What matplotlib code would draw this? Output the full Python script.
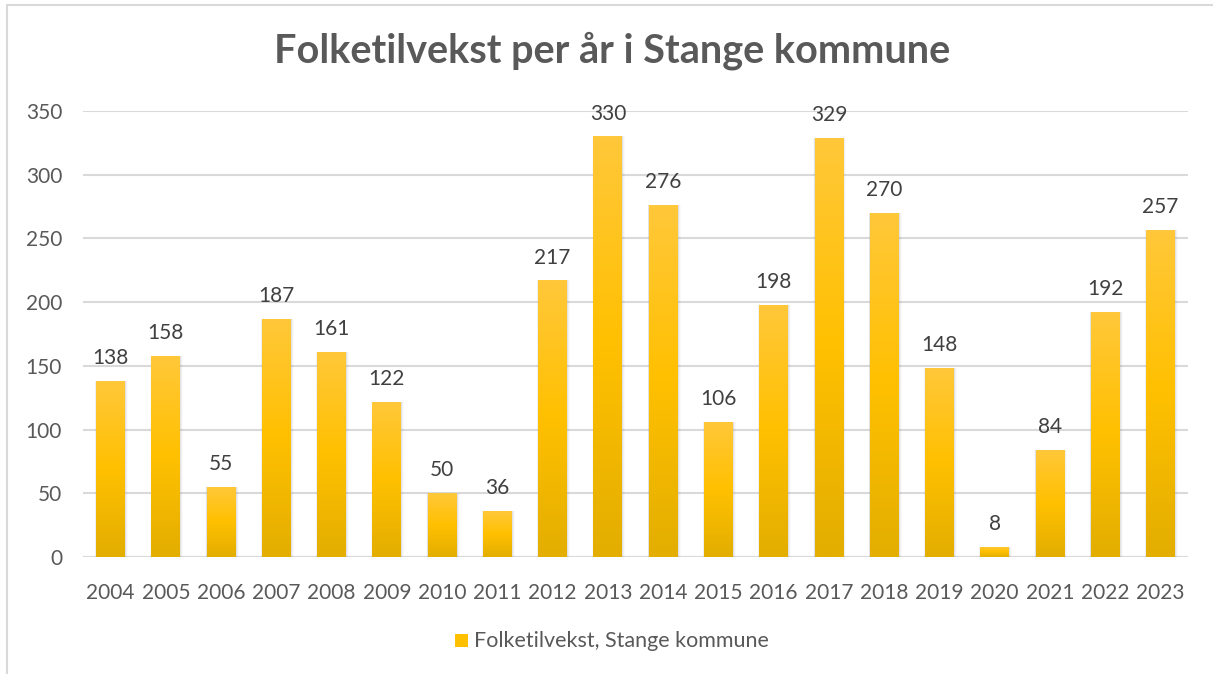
import numpy as np
import matplotlib.pyplot as plt
from matplotlib.patches import Rectangle
from matplotlib.colors import LinearSegmentedColormap

plt.rcParams['font.family'] = ['Lato', 'DejaVu Sans']

# data
years = [str(y) for y in range(2004, 2024)]
values = [138, 158, 55, 187, 161, 122, 50, 36, 217, 330,
          276, 106, 198, 329, 270, 148, 8, 84, 192, 257]
yticks = [0, 50, 100, 150, 200, 250, 300, 350]

text_col = "#595959"
grid_col = "#D9D9D9"

fig = plt.figure(figsize=(12.13, 6.74), dpi=100)
ax = fig.add_axes([0.0684, 0.1736, 0.9110, 0.6617])

x = np.arange(len(years))
bars = ax.bar(x, values, width=0.52, color="#FFC000", zorder=3)

# vertical gradient on each bar (lighter top, darker bottom)
cmap = LinearSegmentedColormap.from_list("gold", ["#E3AE00", "#FFC000", "#FFC83A"])
grad = np.linspace(0, 1, 256).reshape(-1, 1)
for b in bars:
    x0, w, h = b.get_x(), b.get_width(), b.get_height()
    # soft shadow around the bar
    for i, a in enumerate([0.12, 0.07, 0.04]):
        d = 0.015 * (i + 1)
        ax.add_patch(Rectangle((x0 - d * 0.5, 0), w + d * 1.8, h, color="#808080",
                               alpha=a, lw=0, zorder=2))
    im = ax.imshow(grad, extent=(x0, x0 + w, 0, h), origin="lower", cmap=cmap,
                   aspect="auto", zorder=3.5)
    im.set_clip_path(b)
    ax.text(x0 + w / 2, h + 18, str(int(h)), ha="center", va="center",
            fontsize=15, color="#404040", zorder=4)

ax.set_xlim(-0.5, len(years) - 0.5)
ax.set_ylim(0, 350)
ax.set_yticks(yticks)
ax.set_xticks(x)
ax.set_xticklabels(years)
ax.grid(axis="y", color=grid_col, lw=1.5, zorder=0)
for s in ax.spines.values():
    s.set_visible(False)
ax.axhline(0, color=grid_col, lw=1.5, zorder=1)
ax.tick_params(length=0, labelsize=15, colors=text_col, pad=19)
ax.tick_params(axis="y", pad=15)
for lbl in ax.get_yticklabels() + ax.get_xticklabels():
    lbl.set_color(text_col)

fig.text(0.505, 0.925, "Folketilvekst per år i Stange kommune", ha="center",
         va="center", fontsize=28.5, fontweight="bold", color=text_col)

# legend
fig.patches.append(Rectangle((455 / 1213, 1 - 647 / 674), 13 / 1213, 13 / 674,
                             transform=fig.transFigure, color="#FFC000", lw=0))
fig.text(474 / 1213, 1 - 641 / 674, "Folketilvekst, Stange kommune",
         ha="left", va="center", fontsize=15.5, color=text_col)

# chart border
fig.patches.append(Rectangle((7 / 1213, -0.05), 1.2, 1 - 5 / 674 + 0.05,
                             transform=fig.transFigure, fill=False,
                             edgecolor=grid_col, lw=1.5))

fig.savefig("out.png", dpi=100)
